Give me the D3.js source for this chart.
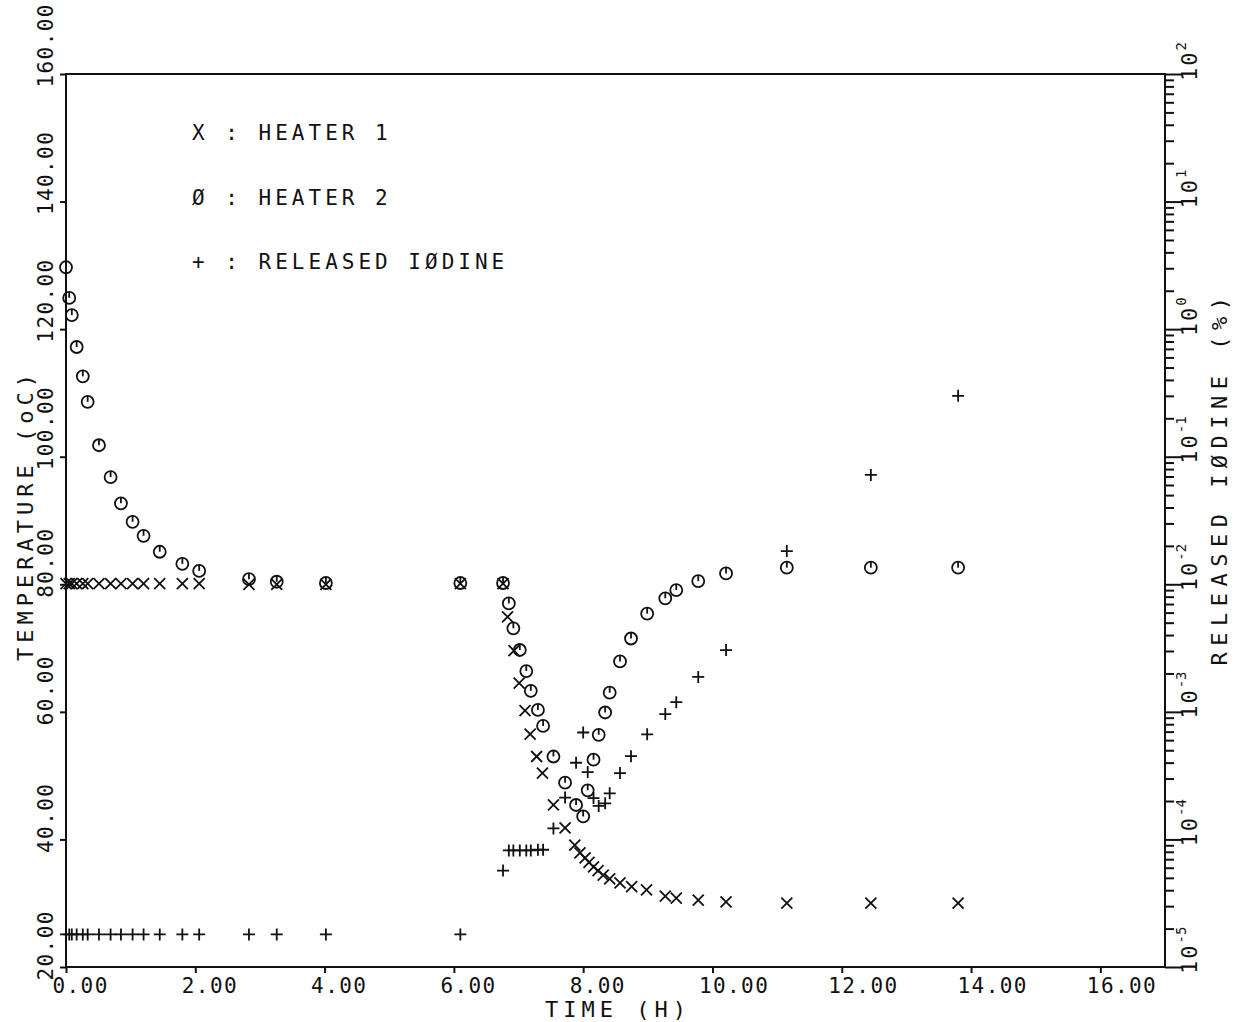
<!DOCTYPE html>
<html>
<head>
<meta charset="utf-8">
<script src="https://cdn.jsdelivr.net/npm/d3@7"></script>
<style>
  body { margin: 0; background: #fff; }
  text { font-family: "DejaVu Sans Mono", monospace; fill: #111; }
</style>
</head>
<body>
<div id="chart"></div>
<script>
// width and height of the page
var width = 1234;
var height = 1022;

var heater1Time = [0, 0.05, 0.09, 0.165, 0.26, 0.335, 0.51, 0.69, 0.85, 1.03, 1.20, 1.45, 1.80, 2.06, 2.83, 3.26, 4.02, 6.10, 6.76,
  6.83, 6.93, 7.01, 7.10, 7.18, 7.28, 7.37, 7.54, 7.72, 7.87, 7.95, 8.03, 8.09, 8.16, 8.23, 8.31, 8.41, 8.57, 8.75, 8.98,
  9.27, 9.44, 9.78, 10.21, 11.15, 12.45, 13.80];
var heater1Temp = [80.1, 80.1, 80.1, 80.1, 80.1, 80.1, 80.1, 80.1, 80.1, 80.1, 80.1, 80.1, 80.1, 80.1, 80.0, 80.0, 80.0, 80.1, 80.1,
  74.9, 69.6, 64.5, 60.2, 56.5, 53.0, 50.4, 45.4, 41.8, 39.1, 37.9, 37.1, 36.4, 35.7, 35.1, 34.4, 33.8, 33.2, 32.6, 32.1,
  31.1, 30.8, 30.5, 30.2, 30.0, 30.0, 30.0];

var heater2Time = [0, 0.05, 0.09, 0.165, 0.26, 0.335, 0.51, 0.69, 0.85, 1.03, 1.20, 1.45, 1.80, 2.06, 2.83, 3.26, 4.02, 6.10, 6.76,
  6.85, 6.92, 7.02, 7.12, 7.19, 7.30, 7.38, 7.54, 7.72, 7.89, 8.00, 8.07, 8.16, 8.24, 8.34, 8.41, 8.57, 8.74, 8.99,
  9.27, 9.44, 9.78, 10.21, 11.15, 12.45, 13.80];
var heater2Temp = [129.7, 124.9, 122.2, 117.2, 112.6, 108.6, 101.8, 96.8, 92.7, 89.8, 87.6, 85.1, 83.2, 82.1, 80.8, 80.4, 80.2, 80.2, 80.2,
  77.0, 73.1, 69.7, 66.4, 63.3, 60.3, 57.8, 53.0, 48.9, 45.4, 43.6, 47.7, 52.5, 56.4, 59.9, 63.0, 67.9, 71.5, 75.4,
  77.8, 79.1, 80.5, 81.7, 82.6, 82.6, 82.6];

var iodineTime = [0, 0.05, 0.09, 0.165, 0.26, 0.335, 0.51, 0.69, 0.85, 1.03, 1.20, 1.45, 1.80, 2.06, 2.83, 3.26, 4.02, 6.10, 6.76,
  6.85, 6.92, 7.02, 7.12, 7.19, 7.30, 7.38, 7.54, 7.72, 7.89, 8.00, 8.07, 8.16, 8.24, 8.34, 8.41, 8.57, 8.74, 8.99,
  9.27, 9.44, 9.78, 10.21, 11.15, 12.45, 13.80];
var iodineValue = [1.8e-5, 1.8e-5, 1.8e-5, 1.8e-5, 1.8e-5, 1.8e-5, 1.8e-5, 1.8e-5, 1.8e-5, 1.8e-5, 1.8e-5, 1.8e-5, 1.8e-5, 1.8e-5, 1.8e-5, 1.8e-5, 1.8e-5, 1.8e-5, 5.7e-5,
  8.2e-5, 8.2e-5, 8.2e-5, 8.2e-5, 8.2e-5, 8.3e-5, 8.3e-5, 1.22e-4, 2.13e-4, 3.99e-4, 6.89e-4, 3.37e-4, 2.11e-4, 1.83e-4, 1.92e-4, 2.30e-4, 3.31e-4, 4.49e-4, 6.67e-4,
  9.6e-4, 1.19e-3, 1.88e-3, 3.05e-3, 1.82e-2, 7.2e-2, 0.30];

// axis ticks
var timeTicks = [0, 2, 4, 6, 8, 10, 12, 14, 16];
var tempTicks = [20, 40, 60, 80, 100, 120, 140, 160];
var decadeTicks = [-5, -4, -3, -2, -1, 0, 1, 2];

var legendText = ["X : HEATER 1", "\u00D8 : HEATER 2", "+ : RELEASED I\u00D8DINE"];

// plot frame (window.top is read-only, so no plain "top" here)
var plotL = 66, plotR = 1165, plotT = 74, plotB = 967;

var x = d3.scaleLinear().domain([0, 17]).range([plotL, plotR]);
var yT = d3.scaleLinear().domain([20, 160]).range([plotB, plotT]);
var yI = d3.scaleLog().domain([1e-5, 1e2]).range([plotB, plotT]);

var svg = d3.select("#chart")
  .append("svg")
  .attr("width", width)
  .attr("height", height)
  .style("background-color", "white");

// frame
svg.append("path")
  .attr("d", "M" + plotL + "," + plotB + "V" + plotT + "H" + plotR + "V" + plotB + "Z")
  .style("fill", "none")
  .style("stroke", "#111")
  .style("stroke-width", 2);

// bottom axis
var xAxis = svg.append("g")
  .attr("transform", "translate(0," + plotB + ")")
  .call(d3.axisBottom(x).tickValues(timeTicks).tickSize(6).tickSizeOuter(0).tickFormat(d3.format(".2f")));
xAxis.select(".domain").remove();
xAxis.selectAll("line").style("stroke", "#111").style("stroke-width", 2);
xAxis.selectAll("text")
  .attr("y", 26).attr("dy", null)
  .attr("x", -14)
  .style("text-anchor", "start")
  .style("font-size", "21px")
  .style("letter-spacing", "1.4px")
  .style("font-family", "DejaVu Sans Mono");

// left axis, labels rotated
var yAxis = svg.append("g")
  .attr("transform", "translate(" + plotL + ",0)")
  .call(d3.axisLeft(yT).tickValues(tempTicks).tickSize(6).tickSizeOuter(0).tickFormat(d3.format(".2f")));
yAxis.select(".domain").remove();
yAxis.selectAll("line").style("stroke", "#111").style("stroke-width", 2);
yAxis.selectAll("text")
  .attr("x", null).attr("dy", null)
  .attr("transform", "translate(-13,13) rotate(-90)")
  .style("text-anchor", "start")
  .style("font-size", "21px")
  .style("letter-spacing", "1.4px")
  .style("font-family", "DejaVu Sans Mono");

// right log axis
var rAxis = svg.append("g")
  .attr("transform", "translate(" + plotR + ",0)")
  .call(d3.axisRight(yI).tickValues(yI.ticks()).tickSize(9).tickSizeOuter(0).tickFormat(""));
rAxis.select(".domain").remove();
rAxis.selectAll("line")
  .style("stroke", "#111")
  .style("stroke-width", 2)
  .attr("x2", function(d) {
    var e = Math.log10(d);
    return Math.abs(e - Math.round(e)) < 1e-9 ? 17 : 9;
  });

var rLabels = svg.append("g").selectAll("text")
  .data(decadeTicks)
  .enter()
  .append("text")
  .attr("transform", function(d) {
    return "translate(" + (plotR + 32) + "," + (yI(Math.pow(10, d)) + 7) + ") rotate(-90)";
  })
  .style("font-size", "22px")
  .style("letter-spacing", "2px");
rLabels.append("tspan").text("10");
rLabels.append("tspan")
  .attr("dy", -11)
  .style("font-size", "14px")
  .style("letter-spacing", "0px")
  .text(function(d) { return d; });

// axis titles
svg.append("text")
  .attr("x", 545).attr("y", 1017)
  .style("font-size", "22px")
  .style("letter-spacing", "5px")
  .text("TIME (H)");

var tTitle = svg.append("text")
  .attr("transform", "translate(33,515) rotate(-90)")
  .style("text-anchor", "middle")
  .style("font-size", "22px")
  .style("letter-spacing", "5px");
tTitle.append("tspan").text("TEMPERATURE (");
tTitle.append("tspan").text("o");
tTitle.append("tspan").text("C)");

svg.append("text")
  .attr("transform", "translate(1227,478) rotate(-90)")
  .style("text-anchor", "middle")
  .style("font-size", "22px")
  .style("letter-spacing", "6.5px")
  .text("RELEASED I\u00D8DINE (%)");

// legend
svg.append("g").selectAll("text")
  .data(legendText)
  .enter()
  .append("text")
  .attr("x", 192)
  .attr("y", function(d, i) { return 140 + i * 64.5; })
  .style("font-size", "21px")
  .style("letter-spacing", "4px")
  .text(function(d) { return d; });

// markers
var marks = svg.append("g")
  .style("fill", "none")
  .style("stroke", "#111")
  .style("stroke-width", 1.8);

var h1 = d3.range(heater1Time.length);
marks.selectAll(".h1")
  .data(h1)
  .enter()
  .append("path")
  .attr("class", "h1")
  .attr("d", function(i) {
    var cx = x(heater1Time[i]), cy = yT(heater1Temp[i]), s = 5.5;
    return "M" + (cx - s) + "," + (cy - s) + "L" + (cx + s) + "," + (cy + s) +
      "M" + (cx - s) + "," + (cy + s) + "L" + (cx + s) + "," + (cy - s);
  });

var h2 = d3.range(heater2Time.length);
var circ = marks.selectAll(".h2")
  .data(h2)
  .enter()
  .append("g")
  .attr("class", "h2")
  .attr("transform", function(i) { return "translate(" + x(heater2Time[i]) + "," + yT(heater2Temp[i]) + ")"; });
circ.append("circle").attr("r", 6);
circ.append("line").attr("x1", 0).attr("y1", -6).attr("x2", 0).attr("y2", 0);

var io = d3.range(iodineTime.length);
marks.selectAll(".io")
  .data(io)
  .enter()
  .append("path")
  .attr("class", "io")
  .attr("d", function(i) {
    var cx = x(iodineTime[i]), cy = yI(iodineValue[i]), s = 6;
    return "M" + (cx - s) + "," + cy + "H" + (cx + s) + "M" + cx + "," + (cy - s) + "V" + (cy + s);
  });
</script>
</body>
</html>
